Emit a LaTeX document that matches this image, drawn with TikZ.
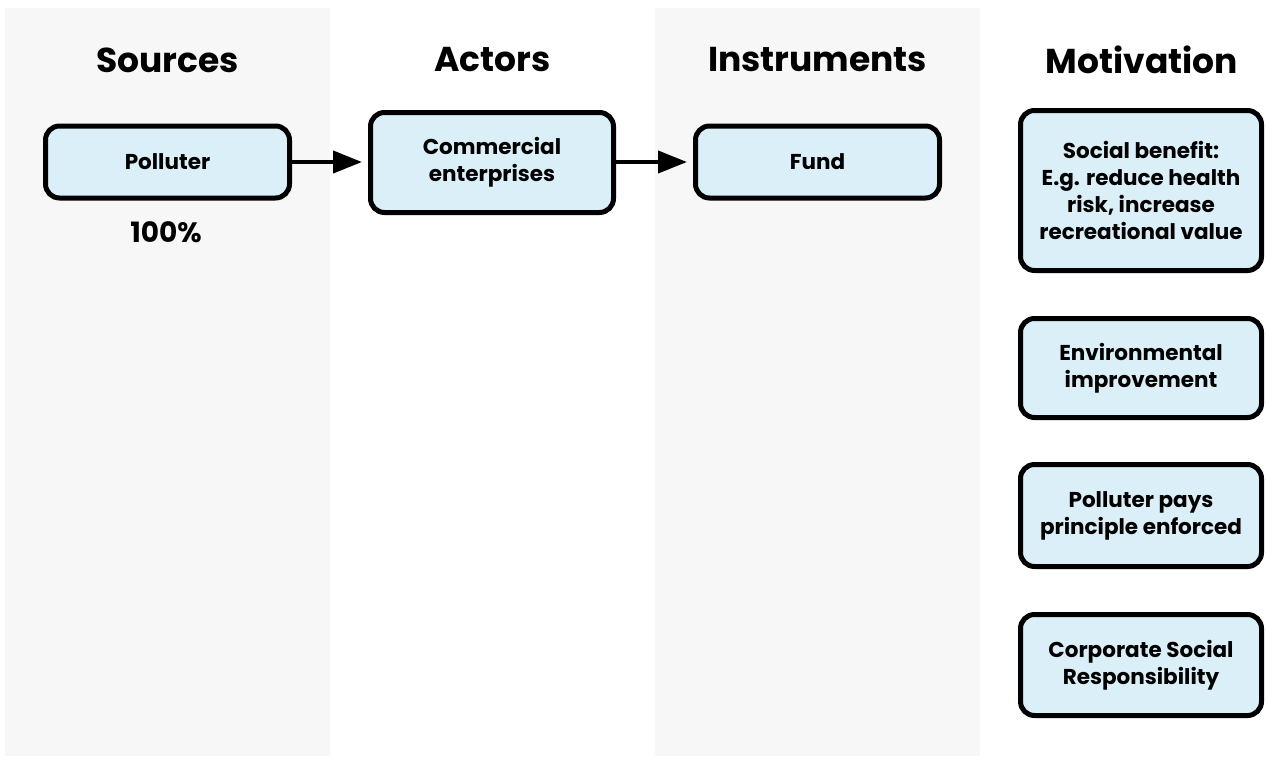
\documentclass[tikz,border=0pt]{standalone}
\usepackage{fontspec}
\setmainfont{Poppins}
\usetikzlibrary{arrows.meta}
\definecolor{colgray}{HTML}{F7F7F7}
\definecolor{boxblue}{HTML}{DAEFF8}
\begin{document}
\begin{tikzpicture}[x=1pt,y=-1pt,
  header/.style={font=\fontsize{34.5}{40}\selectfont\bfseries, inner sep=0pt},
  pct/.style={font=\fontsize{28}{32}\selectfont\bfseries, inner sep=0pt},
  stepbox/.style={draw=black, line width=5pt, fill=boxblue, rounded corners=14pt,
    align=center, font=\fontsize{21.5}{27}\selectfont\bfseries, inner sep=0pt},
  flow/.style={line width=4pt, -{Triangle[length=29pt,width=22pt]}, shorten >=6pt}
]
\useasboundingbox (0,0) rectangle (1266,756);
\fill[colgray] (5,8) rectangle (330,756);
\fill[colgray] (655,8) rectangle (980,756);

\node[header] (hsrc) at (167.5,60) {Sources};
\node[header] (hact) at (492.5,60) {Actors};
\node[header] (hins) at (817.5,60) {Instruments};
\node[header] (hmot) at (1142,60) {Motivation};

\node[stepbox, minimum width=244pt, minimum height=72pt] (pol) at (167.5,162) {Polluter};
\node[pct] (p100) at (166,232.5) {100\%};
\node[stepbox, minimum width=243pt, minimum height=100pt] (com) at (492,162.5) {Commercial\\enterprises};
\node[stepbox, minimum width=244pt, minimum height=72pt] (fund) at (817.5,162) {Fund};

\node[stepbox, minimum width=241pt, minimum height=160pt] (soc) at (1141,190.5)
  {Social benefit:\\E.g. reduce health\\risk, increase\\recreational value};
\node[stepbox, minimum width=241pt, minimum height=99pt] (env) at (1141,368)
  {Environmental\\improvement};
\node[stepbox, minimum width=241pt, minimum height=102pt] (ppp) at (1141,515.5)
  {Polluter pays\\principle enforced};
\node[stepbox, minimum width=241pt, minimum height=101pt] (csr) at (1141,665)
  {Corporate Social\\Responsibility};

\draw[flow] (pol.east) -- (com.west |- pol.east);
\draw[flow] (com.east |- fund.west) -- (fund.west);
\end{tikzpicture}
\end{document}
